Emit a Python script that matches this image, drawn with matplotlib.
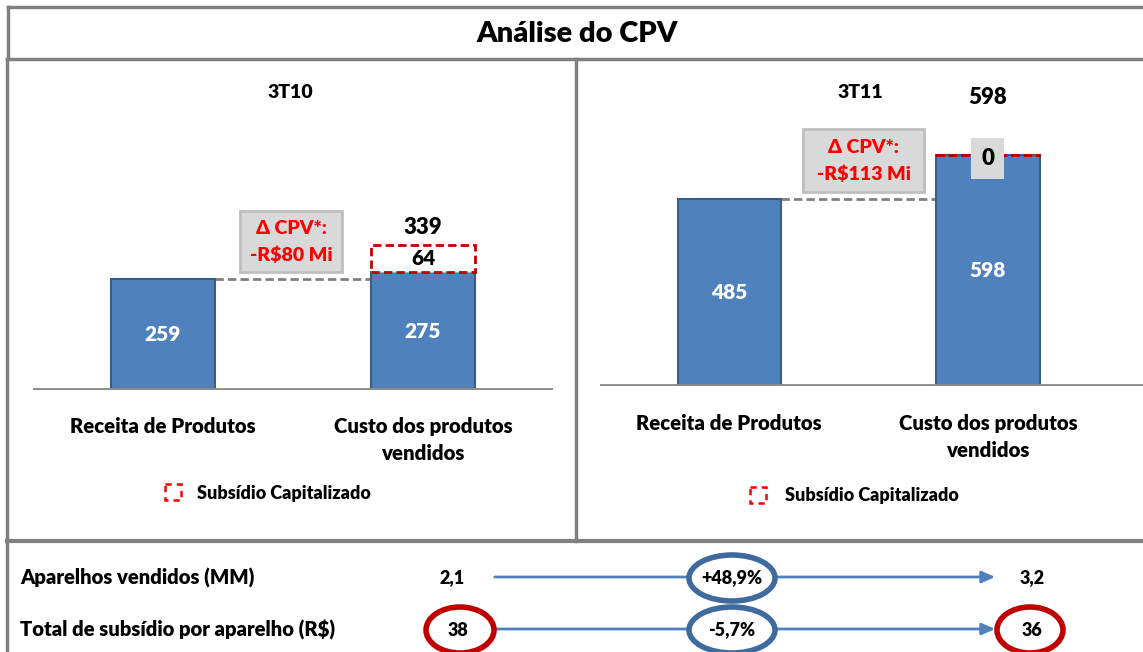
import matplotlib
matplotlib.use("Agg")
import matplotlib.pyplot as plt
from matplotlib.patches import Rectangle, Ellipse

plt.rcParams['font.family'] = ['Lato', 'DejaVu Sans']
plt.rcParams['font.weight'] = 'heavy'

# dados
categorias = ['Receita de Produtos', 'Custo dos produtos\nvendidos']
periodos = ['3T10', '3T11']
receita = [259, 485]
custo = [275, 598]
subsidio = [64, 0]
delta_cpv = ['-R$80 Mi', '-R$113 Mi']

linhas_tabela = ['Aparelhos vendidos (MM)', 'Total de subsídio por aparelho (R$)']
valores_ini = ['2,1', '38']
valores_fim = ['3,2', '36']
variacao = ['+48,9%', '-5,7%']

W, H = 1143, 652
AZUL = '#4F81BD'
AZUL_ESC = '#385D8A'
CINZA = '#808080'
VERMELHO = '#C00000'
FW = 'heavy'

fig = plt.figure(figsize=(W / 100, H / 100), dpi=100)

# eixo de fundo em pixels, para molduras e anotacoes
bg = fig.add_axes([0, 0, 1, 1])
bg.set_xlim(0, W)
bg.set_ylim(H, 0)
bg.axis('off')


def px_axes(x0, y0, x1, y1):
    return fig.add_axes([x0 / W, 1 - y1 / H, (x1 - x0) / W, (y1 - y0) / H])


# molduras
lw_b = 2.5
bg.plot([8, W], [7, 7], color=CINZA, lw=lw_b)
bg.plot([8, 8], [7, 59], color=CINZA, lw=lw_b)
bg.plot([7, W], [59, 59], color=CINZA, lw=lw_b)
bg.plot([7, 7], [59, H], color=CINZA, lw=lw_b)
bg.plot([576, 576], [59, 541], color=CINZA, lw=lw_b)
bg.plot([7, W], [541, 541], color=CINZA, lw=3)

bg.text(577, 34, 'Análise do CPV', ha='center', va='center',
        fontsize=21, fontweight=FW)

# paineis de barras
paineis = [
    dict(rect=(33, 130, 553, 390), ylim=607, xlim=(-0.5, 1.5)),
    dict(rect=(600, 130, W, 386), ylim=664, xlim=(-0.5, 1.6)),
]

for i, p in enumerate(paineis):
    ax = px_axes(*p['rect'])
    ax.patch.set_alpha(0)
    ax.set_xlim(*p['xlim'])
    ax.set_ylim(0, p['ylim'])
    for s in ax.spines.values():
        s.set_visible(False)
    ax.set_xticks([])
    ax.set_yticks([])

    vals = [receita[i], custo[i]]
    ax.bar([0, 1], vals, width=0.4, color=AZUL, edgecolor=AZUL_ESC, lw=1.5, zorder=2)
    ax.bar([1], [subsidio[i]], bottom=[custo[i]], width=0.4, color='white',
           edgecolor=VERMELHO, lw=2, linestyle=(0, (3, 1.5)), zorder=3)
    ax.axhline(0, color='#8C8C8C', lw=3.5, zorder=4)

    # linha tracejada de nivel
    ax.plot([0.2, 0.8], [receita[i], receita[i]], color=CINZA, lw=2,
            linestyle=(0, (3, 1.5)), zorder=1)

    for x, v in zip([0, 1], vals):
        ax.text(x, v / 2, str(v), ha='center', va='center', color='white',
                fontsize=15, fontweight=FW, zorder=5)

    total = custo[i] + subsidio[i]
    if subsidio[i] > 0:
        ax.text(1, custo[i] + subsidio[i] / 2, str(subsidio[i]), ha='center',
                va='center', fontsize=15, fontweight=FW, zorder=5)
        ax.text(1, total + 40, str(total), ha='center', va='center',
                fontsize=16, fontweight=FW)
    else:
        ax.text(1, total - 8, str(subsidio[i]), ha='center', va='center',
                fontsize=16, fontweight=FW, zorder=5,
                bbox=dict(boxstyle='square,pad=0.45', fc='#D9D9D9', ec='none'))
        ax.text(1, total + 150, str(total), ha='center', va='center',
                fontsize=16, fontweight=FW)

    for x, c in zip([0, 1], categorias):
        ax.text(x, -64 if i == 0 else -72, c, ha='center', va='top', fontsize=14.7,
                fontweight=FW, linespacing=1.5)

# titulos dos periodos
bg.text(290, 92, periodos[0], ha='center', va='center', fontsize=14, fontweight=FW)
bg.text(860, 92, periodos[1], ha='center', va='center', fontsize=14, fontweight=FW)

# caixas Delta CPV
caixas = [(240, 211, 342, 272), (803, 129, 924, 192)]
for (x0, y0, x1, y1), d in zip(caixas, delta_cpv):
    bg.add_patch(Rectangle((x0, y0), x1 - x0, y1 - y0, fc='#D9D9D9',
                           ec='#BFBFBF', lw=2, zorder=3))
    cx = (x0 + x1) / 2
    cy = (y0 + y1) / 2
    bg.text(cx, cy - 13, 'Δ CPV*:', ha='center', va='center', color='#FF0000',
            fontsize=14, fontweight=FW, zorder=4)
    bg.text(cx, cy + 14, d, ha='center', va='center', color='#FF0000',
            fontsize=14, fontweight=FW, zorder=4)

# legendas
for lx, ly, tx in [(165, 484, 197), (750, 487, 785)]:
    bg.add_patch(Rectangle((lx, ly), 16, 16, fill=False, ec='#FF0000', lw=1.8,
                           linestyle=(0, (2.5, 2))))
    bg.text(tx, ly + 9, 'Subsídio Capitalizado', ha='left', va='center',
            fontsize=13, fontweight=FW)

# tabela inferior
ys = [578, 630]
for k, y in enumerate(ys):
    bg.text(20, y, linhas_tabela[k], ha='left', va='center', fontsize=14.6,
            fontweight=FW)
    bg.annotate('', xy=(998, y - 1), xytext=(492, y - 1),
                arrowprops=dict(arrowstyle='-|>,head_length=0.8,head_width=0.35',
                                color=AZUL, lw=2))
    bg.add_patch(Ellipse((732, y), 86, 46, fc='white', ec='#3F6A9C', lw=4, zorder=3))
    bg.text(732, y, variacao[k], ha='center', va='center', fontsize=13,
            fontweight=FW, zorder=4)
    bg.text(458 if k else 452, y, valores_ini[k], ha='center', va='center',
            fontsize=13, fontweight=FW, zorder=4)
    bg.text(1032, y, valores_fim[k], ha='center', va='center',
            fontsize=13, fontweight=FW, zorder=4)
    if k == 1:
        bg.add_patch(Ellipse((460, y), 68, 46, fc='white', ec=VERMELHO, lw=4, zorder=3))
        bg.add_patch(Ellipse((1030, y), 66, 46, fc='white', ec=VERMELHO, lw=4, zorder=3))

fig.savefig('out.png', dpi=100)
